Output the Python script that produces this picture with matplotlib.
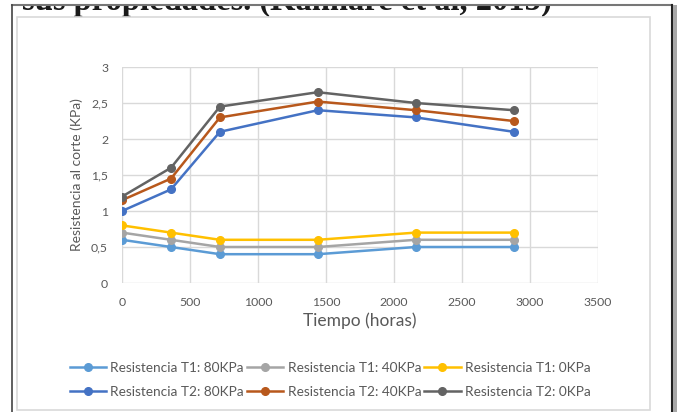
import matplotlib.pyplot as plt
from matplotlib.patches import Rectangle
from matplotlib.lines import Line2D
import matplotlib.ticker as ticker

W, H = 677, 412

# datos
tiempo = [0, 360, 720, 1440, 2160, 2880]
t1_80 = [0.6, 0.5, 0.4, 0.4, 0.5, 0.5]
t1_40 = [0.7, 0.6, 0.5, 0.5, 0.6, 0.6]
t1_0 = [0.8, 0.7, 0.6, 0.6, 0.7, 0.7]
t2_80 = [1.0, 1.3, 2.1, 2.4, 2.3, 2.1]
t2_40 = [1.15, 1.45, 2.3, 2.52, 2.4, 2.25]
t2_0 = [1.2, 1.6, 2.45, 2.65, 2.5, 2.4]

nombres = ["Resistencia T1: 80KPa", "Resistencia T1: 40KPa", "Resistencia T1: 0KPa",
           "Resistencia T2: 80KPa", "Resistencia T2: 40KPa", "Resistencia T2: 0KPa"]
series = [t1_80, t1_40, t1_0, t2_80, t2_40, t2_0]
colores = ['#5B9BD5', '#A5A5A5', '#FFC000', '#4472C4', '#B8581C', '#636363']

plt.rcParams['font.family'] = ['Lato', 'DejaVu Sans']
txt_col = '#595959'


def fx(px):
    return px / W


def fy(py):
    return 1 - py / H


fig = plt.figure(figsize=(W / 100, H / 100), dpi=100)
fig.patch.set_facecolor('white')

# texto del documento (cortado arriba en la captura)
fig.text(fx(22), fy(10), "sus propiedades. (Kanhare et al, 2015)", fontsize=23.5,
         fontweight='bold', family='Liberation Serif', color='#1a1a1a',
         va='baseline', ha='left', zorder=1)
fig.add_artist(Rectangle((0, fy(5.5)), 1, 1 - fy(5.5), transform=fig.transFigure,
                         facecolor='white', edgecolor='none', zorder=5))

# marco del grafico
fig.add_artist(Rectangle((fx(17), fy(410)), fx(650) - fx(17), fy(17) - fy(410),
                         transform=fig.transFigure, facecolor='none',
                         edgecolor='#d9d9d9', linewidth=1.2, zorder=2))
# bordes de la captura
fig.add_artist(Line2D([fx(12), fx(672)], [fy(5), fy(5)], transform=fig.transFigure,
                      color='#777777', linewidth=1.5, zorder=6))
fig.add_artist(Line2D([fx(12), fx(12)], [fy(5), 0], transform=fig.transFigure,
                      color='#444444', linewidth=1.2, zorder=6))
fig.add_artist(Line2D([fx(672), fx(672)], [fy(5), 0], transform=fig.transFigure,
                      color='#222222', linewidth=1.5, zorder=6))
fig.add_artist(Rectangle((fx(673), 0), 1 - fx(673), fy(5), transform=fig.transFigure,
                         facecolor='#a8a8a8', edgecolor='none', zorder=6))

ax = fig.add_axes([fx(122), fy(283), fx(598) - fx(122), fy(67) - fy(283)])
for s, c, n in zip(series, colores, nombres):
    ax.plot(tiempo, s, color=c, marker='o', markersize=5.5, linewidth=1.8, label=n,
            zorder=3)

ax.set_xlim(0, 3500)
ax.set_ylim(0, 3)
ax.xaxis.set_major_locator(ticker.MultipleLocator(500))
ax.yaxis.set_major_locator(ticker.MultipleLocator(0.5))
ax.yaxis.set_major_formatter(ticker.FuncFormatter(
    lambda v, p: ('%g' % v).replace('.', ',')))
ax.grid(True, color='#d9d9d9', linewidth=1)
ax.set_axisbelow(True)
for sp in ax.spines.values():
    sp.set_visible(False)
ax.tick_params(length=0, labelsize=8.8, labelcolor=txt_col)
ax.tick_params(axis='x', pad=10)
ax.tick_params(axis='y', pad=10)
ax.set_xlabel("Tiempo (horas)", fontsize=12.5, color=txt_col, labelpad=3)
ax.set_ylabel("Resistencia al corte (KPa)", fontsize=10, color=txt_col, labelpad=6)

# leyenda por filas: T1 arriba, T2 abajo
handles, labels = ax.get_legend_handles_labels()
orden = [0, 3, 1, 4, 2, 5]
leg = fig.legend([handles[i] for i in orden], [labels[i] for i in orden],
                 loc='center', ncol=3, bbox_to_anchor=(fx(330), fy(380)),
                 frameon=False, fontsize=9.8, handlelength=2.7, handletextpad=0.3,
                 columnspacing=0.2, labelspacing=0.85, labelcolor=txt_col)

fig.savefig('out.png', dpi=100)
